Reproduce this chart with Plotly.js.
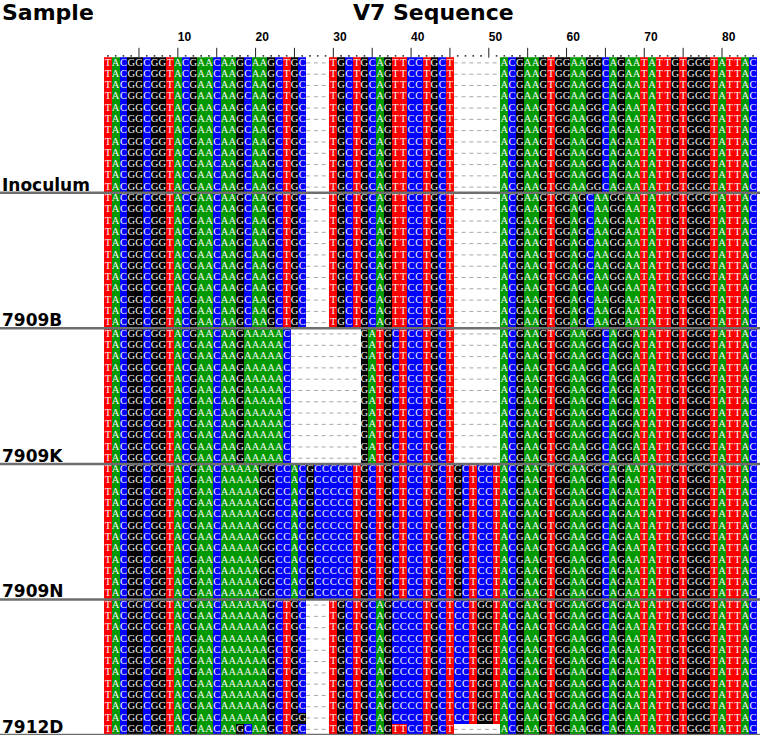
<!DOCTYPE html>
<html><head><meta charset="utf-8">
<script src="https://cdn.plot.ly/plotly-3.0.1.min.js"></script>
<style>html,body{margin:0;padding:0;background:#fff}</style>
</head><body><div id="chart" style="width:760px;height:738px"></div>
<script>
// ---- data ----
const groupLabels = ["Inoculum", "7909B", "7909K", "7909N", "7912D"];
const tickLabels = ["10", "20", "30", "40", "50", "60", "70", "80"];
const tickColumns = [10, 20, 30, 40, 50, 60, 70, 80];

const inoculumRows = [
"TACGGCGGTACGAACAAGCAAGCTGC---TGCTGCAGTTCCTGCT------ACGAAGTGGAAGGCAGAATATTGTGGGTATTAC",
"TACGGCGGTACGAACAAGCAAGCTGC---TGCTGCAGTTCCTGCT------ACGAAGTGGAAGGCAGAATATTGTGGGTATTAC",
"TACGGCGGTACGAACAAGCAAGCTGC---TGCTGCAGTTCCTGCT------ACGAAGTGGAAGGCAGAATATTGTGGGTATTAC",
"TACGGCGGTACGAACAAGCAAGCTGC---TGCTGCAGTTCCTGCT------ACGAAGTGGAAGGCAGAATATTGTGGGTATTAC",
"TACGGCGGTACGAACAAGCAAGCTGC---TGCTGCAGTTCCTGCT------ACGAAGTGGAAGGCAGAATATTGTGGGTATTAC",
"TACGGCGGTACGAACAAGCAAGCTGC---TGCTGCAGTTCCTGCT------ACGAAGTGGAAGGCAGAATATTGTGGGTATTAC",
"TACGGCGGTACGAACAAGCAAGCTGC---TGCTGCAGTTCCTGCT------ACGAAGTGGAAGGCAGAATATTGTGGGTATTAC",
"TACGGCGGTACGAACAAGCAAGCTGC---TGCTGCAGTTCCTGCT------ACGAAGTGGAAGGCAGAATATTGTGGGTATTAC",
"TACGGCGGTACGAACAAGCAAGCTGC---TGCTGCAGTTCCTGCT------ACGAAGTGGAAGGCAGAATATTGTGGGTATTAC",
"TACGGCGGTACGAACAAGCAAGCTGC---TGCTGCAGTTCCTGCT------ACGAAGTGGAAGGCAGAATATTGTGGGTATTAC",
"TACGGCGGTACGAACAAGCAAGCTGC---TGCTGCAGTTCCTGCT------ACGAAGTGGAAGGCAGAATATTGTGGGTATTAC",
"TACGGCGGTACGAACAAGCAAGCTGC---TGCTGCAGTTCCTGCT------ACGAAGTGGAAGGCAGAATATTGTGGGTATTAC"
];
const rows7909B = [
"TACGGCGGTACGAACAAGCAAGCTGC---TGCTGCAGTTCCTGCT------ACGAAGTGGAGCAAGGAATATTGTGGGTATTAC",
"TACGGCGGTACGAACAAGCAAGCTGC---TGCTGCAGTTCCTGCT------ACGAAGTGGAGCAAGGAATATTGTGGGTATTAC",
"TACGGCGGTACGAACAAGCAAGCTGC---TGCTGCAGTTCCTGCT------ACGAAGTGGAGCAAGGAATATTGTGGGTATTAC",
"TACGGCGGTACGAACAAGCAAGCTGC---TGCTGCAGTTCCTGCT------ACGAAGTGGAGCAAGGAATATTGTGGGTATTAC",
"TACGGCGGTACGAACAAGCAAGCTGC---TGCTGCAGTTCCTGCT------ACGAAGTGGAGCAAGGAATATTGTGGGTATTAC",
"TACGGCGGTACGAACAAGCAAGCTGC---TGCTGCAGTTCCTGCT------ACGAAGTGGAGCAAGGAATATTGTGGGTATTAC",
"TACGGCGGTACGAACAAGCAAGCTGC---TGCTGCAGTTCCTGCT------ACGAAGTGGAGCAAGGAATATTGTGGGTATTAC",
"TACGGCGGTACGAACAAGCAAGCTGC---TGCTGCAGTTCCTGCT------ACGAAGTGGAGCAAGGAATATTGTGGGTATTAC",
"TACGGCGGTACGAACAAGCAAGCTGC---TGCTGCAGTTCCTGCT------ACGAAGTGGAGCAAGGAATATTGTGGGTATTAC",
"TACGGCGGTACGAACAAGCAAGCTGC---TGCTGCAGTTCCTGCT------ACGAAGTGGAGCAAGGAATATTGTGGGTATTAC",
"TACGGCGGTACGAACAAGCAAGCTGC---TGCTGCAGTTCCTGCT------ACGAAGTGGAGCAAGGAATATTGTGGGTATTAC",
"TACGGCGGTACGAACAAGCAAGCTGC---TGCTGCAGTTCCTGCT------ACGAAGTGGAGCAAGGAATATTGTGGGTATTAC"
];
const rows7909K = [
"TACGGCGGTACGAACAAGAAAAAC---------GATGCTCCTGCT------ACGAAGTGGAAGGCAGGATATTGTGGGTATTAC",
"TACGGCGGTACGAACAAGAAAAAC---------GATGCTCCTGCT------ACGAAGTGGAAGGCAGGATATTGTGGGTATTAC",
"TACGGCGGTACGAACAAGAAAAAC---------GATGCTCCTGCT------ACGAAGTGGAAGGCAGGATATTGTGGGTATTAC",
"TACGGCGGTACGAACAAGAAAAAC---------GATGCTCCTGCT------ACGAAGTGGAAGGCAGGATATTGTGGGTATTAC",
"TACGGCGGTACGAACAAGAAAAAC---------GATGCTCCTGCT------ACGAAGTGGAAGGCAGGATATTGTGGGTATTAC",
"TACGGCGGTACGAACAAGAAAAAC---------GATGCTCCTGCT------ACGAAGTGGAAGGCAGGATATTGTGGGTATTAC",
"TACGGCGGTACGAACAAGAAAAAC---------GATGCTCCTGCT------ACGAAGTGGAAGGCAGGATATTGTGGGTATTAC",
"TACGGCGGTACGAACAAGAAAAAC---------GATGCTCCTGCT------ACGAAGTGGAAGGCAGGATATTGTGGGTATTAC",
"TACGGCGGTACGAACAAGAAAAAC---------GATGCTCCTGCT------ACGAAGTGGAAGGCAGGATATTGTGGGTATTAC",
"TACGGCGGTACGAACAAGAAAAAC---------GATGCTCCTGCT------ACGAAGTGGAAGGCAGGATATTGTGGGTATTAC",
"TACGGCGGTACGAACAAGAAAAAC---------GATGCTCCTGCT------ACGAAGTGGAAGGCAGGATATTGTGGGTATTAC",
"TACGGCGGTACGAACAAGAAAAAC---------GATGCTCCTGCT------ACGAAGTGGAAGGCAGGATATTGTGGGTATTAC"
];
const rows7909N = [
"TACGGCGGTACGAACAAAAAGGCCACGCCCCCTGCTGCTCCTGCTGCTCCTACGAAGTGGAAGGCAGAATATTGTGGGTATTAC",
"TACGGCGGTACGAACAAAAAGGCCACGCCCCCTGCTGCTCCTGCTGCTCCTACGAAGTGGAAGGCAGAATATTGTGGGTATTAC",
"TACGGCGGTACGAACAAAAAGGCCACGCCCCCTGCTGCTCCTGCTGCTCCTACGAAGTGGAAGGCAGAATATTGTGGGTATTAC",
"TACGGCGGTACGAACAAAAAGGCCACGCCCCCTGCTGCTCCTGCTGCTCCTACGAAGTGGAAGGCAGAATATTGTGGGTATTAC",
"TACGGCGGTACGAACAAAAAGGCCACGCCCCCTGCTGCTCCTGCTGCTCCTACGAAGTGGAAGGCAGAATATTGTGGGTATTAC",
"TACGGCGGTACGAACAAAAAGGCCACGCCCCCTGCTGCTCCTGCTGCTCCTACGAAGTGGAAGGCAGAATATTGTGGGTATTAC",
"TACGGCGGTACGAACAAAAAGGCCACGCCCCCTGCTGCTCCTGCTGCTCCTACGAAGTGGAAGGCAGAATATTGTGGGTATTAC",
"TACGGCGGTACGAACAAAAAGGCCACGCCCCCTGCTGCTCCTGCTGCTCCTACGAAGTGGAAGGCAGAATATTGTGGGTATTAC",
"TACGGCGGTACGAACAAAAAGGCCACGCCCCCTGCTGCTCCTGCTGCTCCTACGAAGTGGAAGGCAGAATATTGTGGGTATTAC",
"TACGGCGGTACGAACAAAAAGGCCACGCCCCCTGCTGCTCCTGCTGCTCCTACGAAGTGGAAGGCAGAATATTGTGGGTATTAC",
"TACGGCGGTACGAACAAAAAGGCCACGCCCCCTGCTGCTCCTGCTGCTCCTACGAAGTGGAAGGCAGAATATTGTGGGTATTAC",
"TACGGCGGTACGAACAAAAAGGCCACGCCCCCTGCTGCTCCTGCTGCTCCTACGAAGTGGAAGGCAGAATATTGTGGGTATTAC"
];
const rows7912D = [
"TACGGCGGTACGAACAAAAAAGCTGC---TGCTGCAGCCCCTGCTCCTGGTACGAAGTGGAAGGCAGAATATTGTGGGTATTAC",
"TACGGCGGTACGAACAAAAAAGCTGC---TGCTGCAGCCCCTGCTCCTGGTACGAAGTGGAAGGCAGAATATTGTGGGTATTAC",
"TACGGCGGTACGAACAAAAAAGCTGC---TGCTGCAGCCCCTGCTCCTGGTACGAAGTGGAAGGCAGAATATTGTGGGTATTAC",
"TACGGCGGTACGAACAAAAAAGCTGC---TGCTGCAGCCCCTGCTCCTGGTACGAAGTGGAAGGCAGAATATTGTGGGTATTAC",
"TACGGCGGTACGAACAAAAAAGCTGC---TGCTGCAGCCCCTGCTCCTGGTACGAAGTGGAAGGCAGAATATTGTGGGTATTAC",
"TACGGCGGTACGAACAAAAAAGCTGC---TGCTGCAGCCCCTGCTCCTGGTACGAAGTGGAAGGCAGAATATTGTGGGTATTAC",
"TACGGCGGTACGAACAAAAAAGCTGC---TGCTGCAGCCCCTGCTCCTGGTACGAAGTGGAAGGCAGAATATTGTGGGTATTAC",
"TACGGCGGTACGAACAAAAAAGCTGC---TGCTGCAGCCCCTGCTCCTGGTACGAAGTGGAAGGCAGAATATTGTGGGTATTAC",
"TACGGCGGTACGAACAAAAAAGCTGC---TGCTGCAGCCCCTGCTCCTGGTACGAAGTGGAAGGCAGAATATTGTGGGTATTAC",
"TACGGCGGTACGAACAAAAAAGCTGC---TGCTGCAGCCCCTGCTCCTGGTACGAAGTGGAAGGCAGAATATTGTGGGTATTAC",
"TACGGCGGTACGAACAAAAAAGCTGG---TGCTGCAGCCCCTGCTCCTGGTACGAAGTGGAAGGCAGAATATTGTGGGTATTAC",
"TACGGCGGTACGAACAAGCAAGCTGC---TGCTGCAGTTCCTGCT------ACGAAGTGGAAGGCAGAATATTGTGGGTATTAC"
];

// ---- build ----
const groups = [inoculumRows, rows7909B, rows7909K, rows7909N, rows7912D];
const allRows = [].concat(...groups);
const nCols = 84;
const code = {"-":0, "A":1, "C":2, "G":3, "T":4};
const cols = Array.from({length: nCols}, (_, i) => i + 1);
const rowIdx = allRows.map((_, i) => i);
const z = allRows.map(s => s.split("").slice(0, nCols).map(ch => code[ch] ?? 0));

const GREEN = "#009a00", BLUE = "#0000ff", BLACK = "#000000", RED = "#ff0000";
const heat = {
  type: "heatmap", x: cols, y: rowIdx, z: z, zmin: 0, zmax: 4,
  colorscale: [[0,"#ffffff"],[0.125,"#ffffff"],[0.125,GREEN],[0.375,GREEN],[0.375,BLUE],[0.625,BLUE],[0.625,BLACK],[0.875,BLACK],[0.875,RED],[1,RED]],
  showscale: false, hoverinfo: "skip", xgap: 0, ygap: 0
};

// letters
const lx = [], ly = [], lt = [];
// gap dashes as line segments
const gx = [], gy = [];
allRows.forEach((s, r) => {
  let start = null;
  for (let c = 0; c < nCols; c++) {
    const ch = s[c];
    if (ch !== "-") { lx.push(c + 1); ly.push(r); lt.push(ch); }
    if (ch === "-" && start === null) start = c;
    if ((ch !== "-" || c === nCols - 1) && start !== null) {
      const end = ch === "-" ? c : c - 1;
      gx.push(start + 0.5, end + 1.5, null); gy.push(r, r, null);
      start = null;
    }
  }
});
const letters = {
  type: "scatter", mode: "text", x: lx, y: ly, text: lt,
  textfont: {family: "Liberation Serif, serif", size: 10.5, color: "#f4f4f4"},
  textposition: "middle center", hoverinfo: "skip", showlegend: false
};
const dashes = {
  type: "scatter", mode: "lines", x: gx, y: gy,
  line: {color: "#a8a8a8", width: 1, dash: "4px,3.77px"},
  hoverinfo: "skip", showlegend: false
};
// ruler: dots and pipes as markers
const dotCols = cols.filter(c => c % 5 !== 0);
const pipeCols = cols.filter(c => c % 5 === 0);
const rulerDots = {
  type: "scatter", mode: "markers", x: dotCols, y: dotCols.map(() => -0.62),
  marker: {symbol: "square", size: 1.6, color: "#333", line: {width: 0}},
  hoverinfo: "skip", showlegend: false
};
const rulerPipes = {
  type: "scatter", mode: "markers", x: pipeCols, y: pipeCols.map(() => -0.9),
  marker: {symbol: "line-ns", size: 7, color: "#222", line: {width: 1, color: "#222"}},
  hoverinfo: "skip", showlegend: false
};
const rulerNums = {
  type: "scatter", mode: "text", x: tickColumns, y: tickColumns.map(() => -2.2),
  text: tickLabels,
  textfont: {family: "Liberation Sans, Arial", size: 12, color: "#000", weight: "bold"},
  textposition: "middle right", hoverinfo: "skip", showlegend: false
};

const L = 104, R = 3, T = 29, B = 3, W = 760, H = 738;
const pw = W - L - R;
const shapes = [];
const annotations = [];
let acc = 0;
groups.forEach((g, i) => {
  acc += g.length;
  shapes.push({type: "line", xref: "paper", yref: "y", x0: -L / pw, x1: (pw + R) / pw,
    y0: acc - 0.5, y1: acc - 0.5, line: {color: "#6e6e6e", width: 2.5}});
  annotations.push({xref: "paper", yref: "y", x: -L / pw, y: acc - 0.5, xanchor: "left", yanchor: "bottom",
    yshift: -4, text: "<b>" + groupLabels[i] + "</b>", showarrow: false,
    font: {family: "DejaVu Sans, sans-serif", size: 17, color: "#000"}});
});
annotations.push({xref: "paper", yref: "paper", x: -L / pw, y: 1, yshift: 17, xanchor: "left", yanchor: "middle",
  text: "<b>Sample</b>", showarrow: false, font: {family: "DejaVu Sans, sans-serif", size: 22, color: "#000"}});
annotations.push({xref: "paper", yref: "paper", x: 0.505, y: 1, yshift: 17, xanchor: "center", yanchor: "middle",
  text: "<b>V7 Sequence</b>", showarrow: false, font: {family: "DejaVu Sans, sans-serif", size: 22, color: "#000"}});

const layout = {
  width: W, height: H, margin: {l: L, r: R, t: T, b: B},
  paper_bgcolor: "#fff", plot_bgcolor: "#fff", showlegend: false,
  xaxis: {range: [0.5, nCols + 0.5], visible: false, fixedrange: true},
  yaxis: {range: [allRows.length - 0.5, -3.0], visible: false, fixedrange: true},
  shapes: shapes, annotations: annotations
};
Plotly.newPlot("chart", [heat, dashes, letters, rulerDots, rulerPipes, rulerNums], layout, {displayModeBar: false, staticPlot: true});
</script></body></html>
